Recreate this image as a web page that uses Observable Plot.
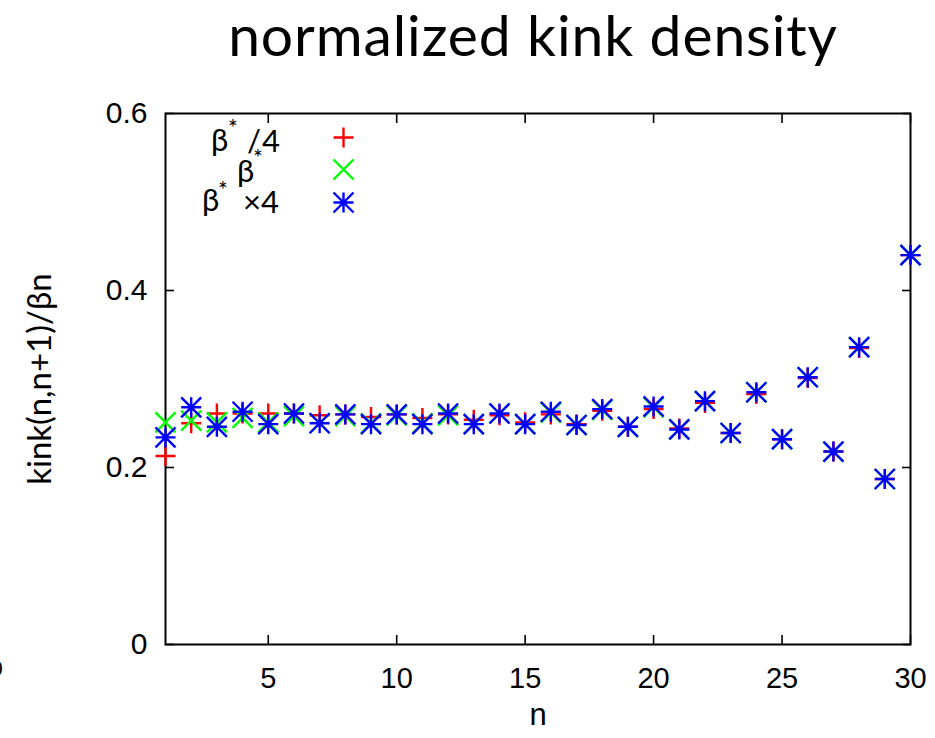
<!DOCTYPE html>
<html>
<head>
<meta charset="utf-8">
<script src="https://cdn.jsdelivr.net/npm/d3@7"></script>
<script src="https://cdn.jsdelivr.net/npm/@observablehq/plot@0.6"></script>
<style>
  body { margin: 0; background: #fff; }
  #wrap { position: relative; width: 935px; height: 738px; overflow: hidden; background: #fff; }
  #titlebox { height: 90px; width: 935px; }
  #overlay { position: absolute; left: 0; top: 0; pointer-events: none; }
  #overlay text { font-family: Lato, "Open Sans", sans-serif; fill: #000; }
</style>
</head>
<body>
<div id="wrap">
  <div id="titlebox"></div>
  <div id="chart"></div>
  <svg id="overlay" width="935" height="738">
    <text id="title" x="533" y="56" font-size="57" letter-spacing="0.9" text-anchor="middle"></text>
    <text x="211" y="151" font-size="31">β</text>
    <text x="228" y="136" font-size="23">*</text>
    <text x="247" y="152" font-size="31">/</text>
    <text x="262" y="152" font-size="31">4</text>
    <text x="237" y="182" font-size="31">β</text>
    <text x="253" y="166" font-size="23">*</text>
    <text x="202" y="211" font-size="31">β</text>
    <text x="218" y="198" font-size="23">*</text>
    <text x="279" y="213" font-size="31" text-anchor="end">×4</text>
    <text x="-9.5" y="676" font-size="22" style="font-family:'Liberation Sans'">0</text>
  </svg>
</div>
<script>
// ---- data ----
const nValues = [1,2,3,4,5,6,7,8,9,10,11,12,13,14,15,16,17,18,19,20,21,22,23,24,25,26,27,28,29,30];
const quarterBeta = [0.213,0.250,0.261,0.261,0.261,0.261,0.259,0.260,0.257,0.260,0.256,0.260,0.254,0.259,0.251,0.260,0.249,0.264,0.246,0.266,0.244,0.273,0.239,0.283,0.232,0.301,0.218,0.335,0.187,0.440];
const betaStar    = [0.251,0.253,0.251,0.256,0.251,0.258,0.250,0.258,0.250,0.259,0.250,0.259,0.249,0.261,0.249,0.262,0.248,0.265,0.246,0.268,0.243,0.275,0.239,0.285,0.232,0.302,0.218,0.336,0.187,0.440];
const fourBeta    = [0.234,0.268,0.246,0.263,0.249,0.261,0.250,0.260,0.249,0.260,0.249,0.261,0.249,0.261,0.249,0.263,0.248,0.266,0.246,0.269,0.243,0.275,0.239,0.285,0.232,0.302,0.218,0.336,0.187,0.440];
const xTicks = [5,10,15,20,25,30];
const yTicks = [0,0.2,0.4,0.6];
const titleText = "normalized kink density";
const xLabel = "n";
const yLabel = "kink(n,n+1)/βn";

// ---- gnuplot-like point symbols ----
const plusSym = { draw(ctx, size) { const r = Math.sqrt(size / Math.PI);
  ctx.moveTo(-r, 0); ctx.lineTo(r, 0); ctx.moveTo(0, -r); ctx.lineTo(0, r); } };
const timesSym = { draw(ctx, size) { const r = Math.sqrt(size / Math.PI);
  ctx.moveTo(-r, -r); ctx.lineTo(r, r); ctx.moveTo(-r, r); ctx.lineTo(r, -r); } };
const starSym = { draw(ctx, size) { const r = Math.sqrt(size / Math.PI);
  ctx.moveTo(-r, 0); ctx.lineTo(r, 0); ctx.moveTo(0, -r); ctx.lineTo(0, r);
  ctx.moveTo(-r, -r); ctx.lineTo(r, r); ctx.moveTo(-r, r); ctx.lineTo(r, -r); } };

const toRows = (vals) => nValues.map((n, i) => ({n, v: vals[i]}));
const sw = 2.4, rr = 10;

const chart = Plot.plot({
  width: 935, height: 648,
  marginTop: 23, marginLeft: 165, marginRight: 25, marginBottom: 94,
  x: {domain: [1, 30]},
  y: {domain: [0, 0.6]},
  style: {fontFamily: "'Liberation Sans', Arial, sans-serif", fontSize: "28px", color: "#000", background: "#fff", overflow: "visible"},
  marks: [
    Plot.axisX(xTicks, {anchor: "bottom", tickSize: -9, tickPadding: 32, strokeWidth: 1.6, label: null, fontSize: 29}),
    Plot.axisX(xTicks, {anchor: "top", tickSize: -9, strokeWidth: 1.6, tickFormat: () => "", label: null}),
    Plot.axisY(yTicks, {anchor: "left", tickSize: -9, tickPadding: 27, strokeWidth: 1.6, label: null, fontSize: 30, tickFormat: d => d === 0 ? "0" : d3.format(".1f")(d)}),
    Plot.axisY(yTicks, {anchor: "right", tickSize: -9, strokeWidth: 1.6, tickFormat: () => "", label: null}),
    Plot.frame({stroke: "#000", strokeWidth: 2}),
    Plot.dot(toRows(quarterBeta), {x: "n", y: "v", symbol: plusSym, r: rr, stroke: "#ff0000", strokeWidth: sw}),
    Plot.dot(toRows(betaStar), {x: "n", y: "v", symbol: timesSym, r: rr, stroke: "#00ff00", strokeWidth: sw}),
    Plot.dot(toRows(fourBeta), {x: "n", y: "v", symbol: starSym, r: rr, stroke: "#0000ff", strokeWidth: sw}),
    // legend samples
    Plot.dot([0], {frameAnchor: "top-left", dx: 178, dy: 24, symbol: plusSym, r: rr, stroke: "#ff0000", strokeWidth: sw}),
    Plot.dot([0], {frameAnchor: "top-left", dx: 178, dy: 56, symbol: timesSym, r: rr, stroke: "#00ff00", strokeWidth: sw}),
    Plot.dot([0], {frameAnchor: "top-left", dx: 178, dy: 89, symbol: starSym, r: rr, stroke: "#0000ff", strokeWidth: sw}),
    // axis titles
    Plot.text([xLabel], {frameAnchor: "bottom", dy: 80, text: d => d, fontSize: 31, fontFamily: "'Liberation Sans', Arial, sans-serif"}),
    Plot.text([yLabel], {frameAnchor: "left", textAnchor: "middle", dx: -125, rotate: -90, text: d => d, fontSize: 33, fontFamily: "Lato, 'Open Sans', sans-serif"})
  ]
});
document.getElementById("title").textContent = titleText;
document.getElementById("chart").appendChild(chart);
</script>
</body>
</html>
